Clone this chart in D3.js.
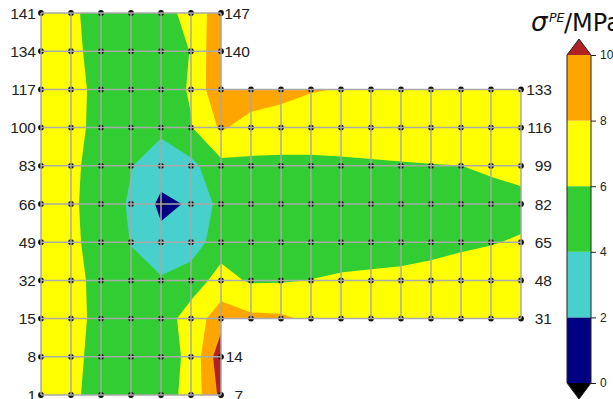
<!DOCTYPE html>
<html>
<head>
<meta charset="utf-8">
<script src="https://cdn.jsdelivr.net/npm/d3@7"></script>
<style>
  html, body { margin: 0; padding: 0; background: #fff; overflow: hidden; }
  text { font-family: "Liberation Sans", Arial, sans-serif; fill: #222; }
</style>
</head>
<body>
<div id="chart"></div>
<script>
const width = 613
const height = 399

// stress at each node, one list per mesh row, top row first
const row141 = [7.3, 6.36, 5.16, 4.9, 5.2, 6.7, 9.15]
const row134 = [7.3, 6.48, 5.28, 4.9, 5.2, 6.05, 9.9]
const row117 = [7.4, 6.64, 5.44, 4.8, 5.2, 6.16, 9.84, 9.4, 8.64, 8.11, 7.93, 7.8, 7.7, 7.6, 7.6, 7.6, 7.6]
const row100 = [7.4, 6.6, 5.4, 4.6, 4.43, 5.9, 8.3, 7.0, 7.0, 7.0, 7.1, 7.2, 7.2, 7.3, 7.3, 7.3, 7.3]
const row83 = [7.3, 6.4, 5.2, 4.08, 2.94, 3.47, 5.4, 5.65, 5.59, 5.59, 5.65, 5.74, 5.85, 5.93, 5.99, 6.32, 6.8]
const row66 = [7.2, 6.32, 5.12, 3.75, 1.56, 2.2, 4.67, 4.9, 4.85, 4.85, 4.85, 4.9, 4.95, 5.05, 5.1, 5.2, 5.3]
const row49 = [7.3, 6.4, 5.2, 3.94, 2.54, 2.75, 5.3, 5.1, 5.05, 5.1, 5.2, 5.3, 5.4, 5.5, 5.7, 5.9, 6.19]
const row32 = [7.4, 6.6, 5.4, 4.5, 4.22, 5.25, 6.57, 5.8, 5.85, 6.03, 6.21, 6.29, 6.35, 6.56, 6.85, 7.1, 7.2]
const row15 = [7.4, 6.64, 5.44, 4.8, 5.2, 6.7, 9.2, 8.42, 8.32, 7.64, 7.4, 7.4, 7.4, 7.4, 7.3, 7.3, 7.4]
const row8 = [7.3, 6.52, 5.32, 4.9, 5.2, 6.4, 11.3]
const row1 = [7.3, 6.4, 5.2, 4.9, 5.2, 6.6, 10.5]

const rows = [row141, row134, row117, row100, row83, row66, row49, row32, row15, row8, row1]

// node number printed beside each row
const leftLabels = [141, 134, 117, 100, 83, 66, 49, 32, 15, 8, 1]
const rightLabels = [147, 140, 133, 116, 99, 82, 65, 48, 31, 14, 7]

const levels = [0, 2, 4, 6, 8, 10]
const levelColours = ['#000080', '#48d1cc', '#32cd32', '#ffff00', '#ffa500', '#b22222']
const barTicks = [0, 2, 4, 6, 8, 10]

const nCols = d3.max(rows, r => r.length)
const nRows = rows.length

const x = d3.scaleLinear().domain([0, nCols - 1]).range([41, 521])
const y = d3.scaleLinear().domain([0, nRows - 1]).range([13, 395])
const barScale = d3.scaleLinear().domain([0, 10]).range([383, 55])

const svg = d3.select('#chart')
  .append('svg')
  .attr('width', width)
  .attr('height', height)
  .style('display', 'block')

// missing nodes go in as NaN, d3.contours treats them as below every level
const grid = []
rows.forEach(r => {
  for (let i = 0; i < nCols; i++) grid.push(i < r.length ? r[i] : NaN)
})

const clip = svg.append('defs').append('clipPath').attr('id', 'mesh')
const shortCols = d3.min(rows, r => r.length)
clip.append('rect')
  .attr('x', x(0)).attr('y', y(0))
  .attr('width', x(shortCols - 1) - x(0)).attr('height', y(nRows - 1) - y(0))
const longRows = rows.map((r, j) => r.length === nCols ? j : null).filter(j => j !== null)
clip.append('rect')
  .attr('x', x(shortCols - 1)).attr('y', y(longRows[0]))
  .attr('width', x(nCols - 1) - x(shortCols - 1)).attr('height', y(longRows[longRows.length - 1]) - y(longRows[0]))

// contour coordinates sit half a cell off the node centres
const project = d3.geoTransform({
  point (px, py) { this.stream.point(x(px - 0.5), y(py - 0.5)) }
})
const path = d3.geoPath(project)

const contours = d3.contours()
  .size([nCols, nRows])
  .smooth(true)
  .thresholds(levels)(grid)

svg.append('g')
  .attr('clip-path', 'url(#mesh)')
  .selectAll('path')
  .data(contours)
  .join('path')
  .attr('d', path)
  .attr('fill', (d, i) => levelColours[i])

// nodes first, mesh lines run over them
const nodes = []
rows.forEach((r, j) => r.forEach((v, i) => nodes.push({ i, j })))

svg.append('g')
  .selectAll('circle')
  .data(nodes)
  .join('circle')
  .attr('cx', d => x(d.i))
  .attr('cy', d => y(d.j))
  .attr('r', 2.9)
  .attr('fill', '#111')

const lines = svg.append('g')
  .attr('stroke', '#a9a9a9')
  .attr('stroke-width', 1.5)

rows.forEach((r, j) => {
  lines.append('line')
    .attr('x1', x(0)).attr('x2', x(r.length - 1))
    .attr('y1', y(j)).attr('y2', y(j))
})
d3.range(nCols).forEach(i => {
  const js = d3.range(nRows).filter(j => i < rows[j].length)
  lines.append('line')
    .attr('x1', x(i)).attr('x2', x(i))
    .attr('y1', y(js[0])).attr('y2', y(js[js.length - 1]))
})

svg.append('g')
  .selectAll('text')
  .data(leftLabels)
  .join('text')
  .attr('x', x(0) - 5)
  .attr('y', (d, j) => y(j))
  .attr('dy', '0.36em')
  .attr('text-anchor', 'end')
  .attr('font-size', 15.5)
  .text(d => d)

// labels hang further right next to the arm and the top, less at the bottom stub
const labelEnd = j => {
  if (rows[j].length === nCols) return x(nCols - 1) + 31
  return j < longRows[0] ? x(shortCols - 1) + 29 : x(shortCols - 1) + 22
}
svg.append('g')
  .selectAll('text')
  .data(rightLabels)
  .join('text')
  .attr('x', (d, j) => labelEnd(j))
  .attr('y', (d, j) => y(j))
  .attr('dy', '0.36em')
  .attr('text-anchor', 'end')
  .attr('font-size', 15.5)
  .text(d => d)

// colour bar
const barLeft = 567
const barRight = 591
const barMid = (barLeft + barRight) / 2

const bar = svg.append('g')
bar.selectAll('rect')
  .data(d3.pairs(levels))
  .join('rect')
  .attr('x', barLeft)
  .attr('width', barRight - barLeft)
  .attr('y', d => barScale(d[1]))
  .attr('height', d => barScale(d[0]) - barScale(d[1]))
  .attr('fill', (d, i) => levelColours[i])

const barTop = barScale(levels[levels.length - 1])
const barBottom = barScale(levels[0])

bar.append('path')
  .attr('d', `M${barLeft},${barTop}L${barMid},${barTop - 16}L${barRight},${barTop}Z`)
  .attr('fill', levelColours[levelColours.length - 1])
bar.append('path')
  .attr('d', `M${barLeft},${barBottom}L${barMid},${barBottom + 16}L${barRight},${barBottom}Z`)
  .attr('fill', '#000')
bar.append('path')
  .attr('d', `M${barLeft},${barTop}L${barMid},${barTop - 16}L${barRight},${barTop}V${barBottom}L${barMid},${barBottom + 16}L${barLeft},${barBottom}Z`)
  .attr('fill', 'none')
  .attr('stroke', '#222')
  .attr('stroke-width', 1)

const barAxis = svg.append('g')
  .attr('transform', `translate(${barRight},0)`)
  .call(d3.axisRight(barScale).tickValues(barTicks).tickSize(5).tickPadding(4))
barAxis.select('.domain').remove()
barAxis.selectAll('text').attr('font-size', 12).attr('font-family', '"Liberation Sans", Arial, sans-serif').attr('fill', '#222')
barAxis.selectAll('line').attr('stroke', '#222')

const title = svg.append('text')
  .attr('y', 31)
  .style('font-family', '"DejaVu Sans", sans-serif')
  .style('fill', '#111')
title.append('tspan').attr('x', 531).attr('font-style', 'italic').attr('font-size', 26).text('σ')
title.append('tspan').attr('x', 549).attr('font-style', 'italic').attr('font-size', 12.5).attr('dy', -9).text('PE')
title.append('tspan').attr('x', 564).attr('font-size', 24).attr('dy', 9).text('/MPa')
</script>
</body>
</html>
